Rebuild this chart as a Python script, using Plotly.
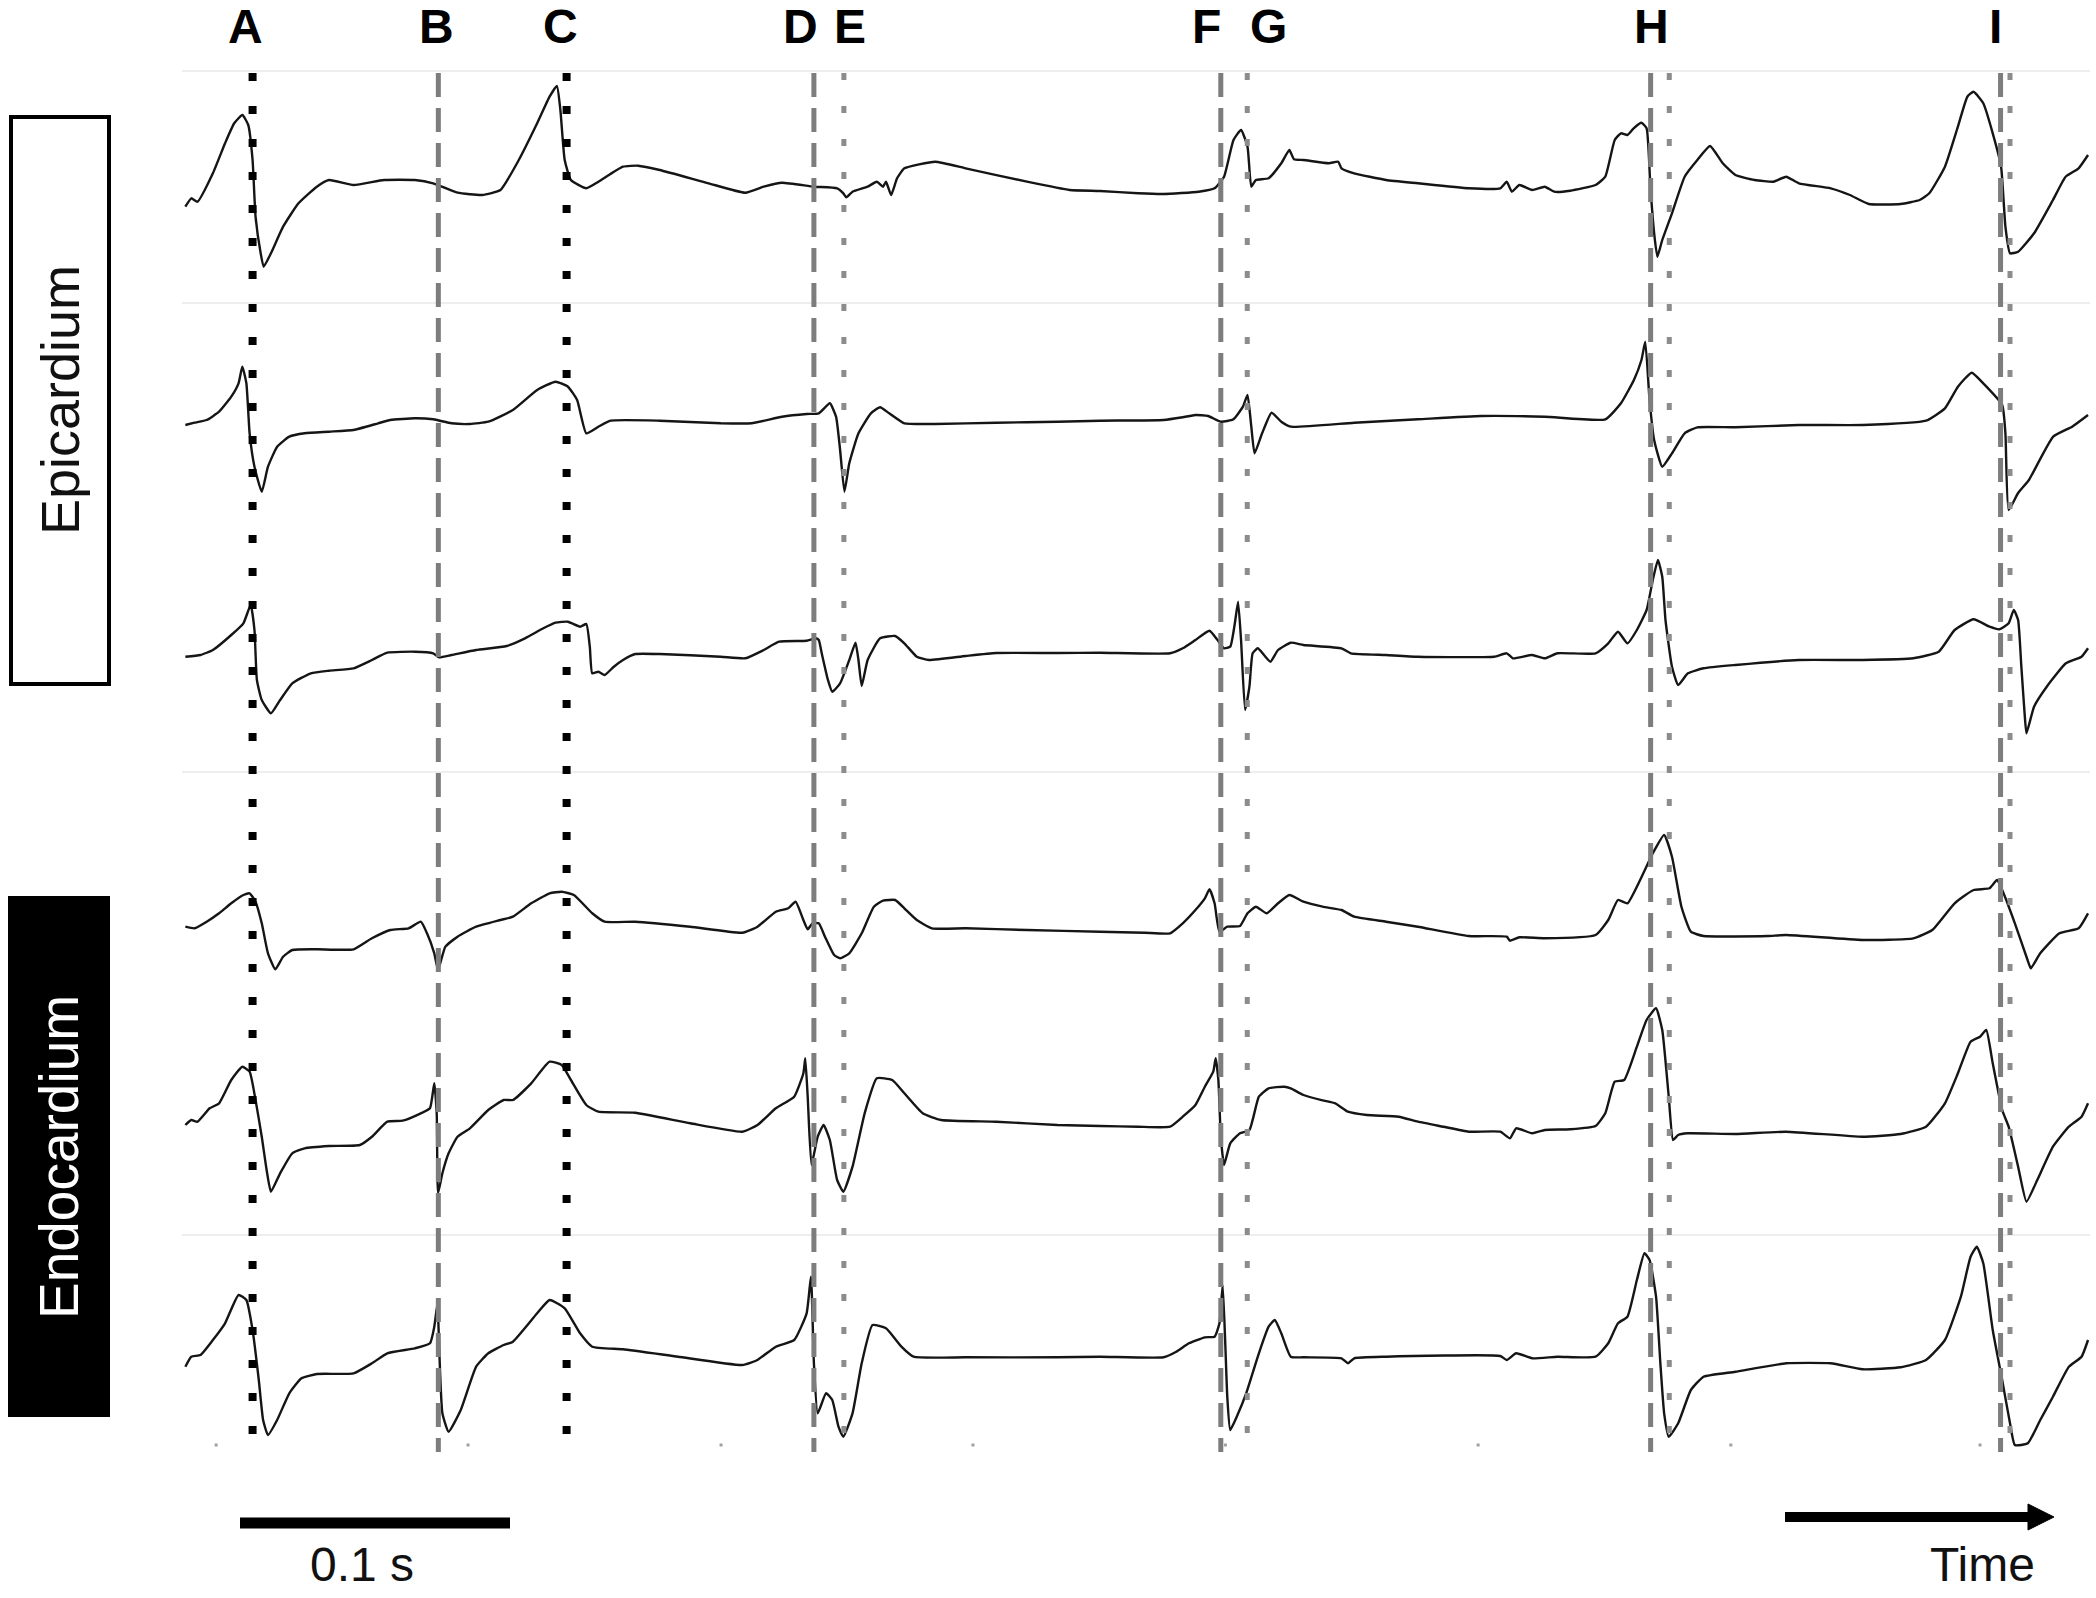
import plotly.graph_objects as go

# ------------------------------------------------------------------
# DATA  (time in ms from the left edge of the recordings, amplitude in a.u.)
# ------------------------------------------------------------------
channel_labels = ["Epi 1", "Epi 2", "Epi 3", "Endo 1", "Endo 2", "Endo 3"]

epi1_t = [0.5, 2.7, 5.0, 10.7, 15.2, 18.6, 21.6, 23.8, 25.4, 26.5,
          28.4, 29.5, 32.2, 36.7, 42.4, 49.2, 53.7, 62.8, 74.1, 85.5,
          92.3, 101.3, 110.4, 117.2, 124.0, 130.8, 135.4, 138.1, 139.4, 141.0,
          143.3, 149.0, 153.5, 162.6, 168.2, 176.2, 194.3, 207.9, 214.7, 221.5,
          233.3, 241.9, 244.2, 245.3, 247.6, 253.2, 256.6, 258.9, 260.0, 261.9,
          264.1, 266.8, 278.2, 289.5, 312.2, 328.0, 339.3, 353.4, 362.8, 375.8,
          381.7, 385.2, 388.7, 391.5, 393.9, 395.3, 397.0, 401.7, 406.4, 409.4,
          411.1, 414.6, 424.0, 427.5, 428.7, 433.4, 445.2, 457.0, 475.8, 487.5,
          489.9, 491.8, 494.6, 499.3, 504.0, 507.5, 513.4, 522.8, 526.4, 529.9,
          532.2, 534.6, 536.9, 539.8, 541.7, 543.1, 544.5, 545.7, 547.5, 551.1,
          555.8, 560.5, 565.2, 569.9, 574.6, 581.7, 588.7, 593.4, 598.1, 609.9,
          617.0, 624.0, 635.8, 642.8, 646.4, 652.2, 657.0, 660.5, 662.8, 666.4,
          669.9, 673.0, 674.6, 676.3, 679.3, 685.2, 692.2, 696.9, 701.7, 705.2]
epi1_v = [-16.7, -8.3, -11.7, 16.7, 46.7, 66.7, 75, 65, 30, -26.7,
          -63.3, -76.7, -63.3, -36.7, -13.3, 3.3, 10, 5, 10, 10,
          6.7, -2.7, -5, 0, 30, 66.7, 93.3, 104, 80, 30,
          10, 1.7, 8.3, 23.3, 24.3, 20, 6.7, -2.7, 3.3, 7.3,
          3.3, 1.7, -3.3, -7.3, -1.7, 3.3, 8.3, 3.3, 8.3, -5,
          11.7, 21.7, 28.3, 21.7, 8.3, 0, -1, -3.3, -4, -1.7,
          1.7, 13.3, 50, 60, 43.3, 3.3, 10, 11.7, 26.7, 40,
          30.7, 30, 26.7, 28.3, 21.7, 16.7, 10, 6.7, 1.7, 1.7,
          8.3, -1.7, 5, 0, 3.3, -1.7, -0.7, 5, 13.3, 50,
          56.7, 55, 61.7, 67.3, 61.7, 3.3, -43.3, -66.7, -50, -23.3,
          13.3, 30, 44, 26.7, 15, 10, 8.3, 13.3, 6.7, 1.7,
          -5, -14, -14, -10, -3.3, 23.3, 63.3, 93.3, 98.3, 86.7,
          56.7, 23.3, -36.7, -63.3, -61.7, -43.3, -10, 13.3, 21.7, 35]

epi2_t = [0.5, 3.9, 8.4, 13.0, 17.5, 20.2, 21.6, 23.1, 24.3, 26.1,
          28.8, 31.1, 34.5, 39.0, 44.7, 53.7, 62.8, 71.9, 76.4, 85.5,
          92.3, 99.1, 105.9, 112.7, 121.8, 130.8, 137.6, 142.2, 145.6, 149.0,
          153.5, 158.0, 176.2, 198.8, 210.2, 221.5, 230.6, 235.1, 239.2, 241.5,
          243.0, 244.6, 246.4, 249.8, 254.4, 257.8, 261.2, 266.8, 278.2, 300.8,
          323.5,
          339.3, 362.8, 369.9, 374.6, 379.3, 384.0, 388.7, 392.2, 393.9, 395.3,
          396.5, 399.3, 402.8, 406.4, 409.9, 433.4, 457.0, 480.5, 504.0, 526.4,
          532.2, 537.0, 539.8, 541.2, 542.8, 544.5, 547.5, 551.1, 555.8, 560.5,
          574.6, 598.1, 621.7, 645.2, 652.2, 657.0, 662.1, 666.4, 673.4, 674.6,
          675.8, 679.3, 683.3, 692.3, 699.3, 705.2]
epi2_v = [-2, 0.3, 3, 11.3, 26.3, 39.7, 56.3, 39.7, -10.3, -43.7,
          -68.7, -43.7, -23.7, -13.7, -10.3, -8.7, -7, -0.3, 3, 4.7,
          3.7, -0.3, -1, 1.3, 13, 33, 41.3, 36.3, 23, -10.3,
          -3.7, 2.3, 2.3, -0.3, -0.3, 6.3, 9, 9.7, 19.7, 6.3,
          -27, -68.7, -40.3, -10.3, 9.7, 15.7, 9.7, -0.3, -1, 0.3,
          1.3,
          2.3, 3, 5.7, 8, 7, 1.3, 3.7, 16.3, 28, -3.7,
          -30.3, -10.3, 10.3, 1.3, -3.7, 0.3, 3.7, 7, 6.3, 3.7,
          19.7, 43, 63, 81.3, 23, -17, -43.7, -30.3, -10.3, -4.3,
          -4.3, -2, -2, 2.3, 14.7, 36.3, 50.3, 39.7, 18, -10.3,
          -87, -70, -57, -13.7, -3.7, 8]

epi3_t = [0.5, 6.1, 10.7, 17.5, 22.0, 24.7, 26.1, 27.0, 28.8, 32.2,
          35.6, 40.1, 47.0, 53.7, 62.8, 69.6, 75.3, 85.5, 92.3, 94.5,
          99.1, 108.2, 119.5, 126.3, 133.1, 137.6, 142.2, 146.7, 149.0, 150.3,
          151.2, 153.5, 155.8, 159.2, 162.6, 167.1, 176.2, 198.8, 207.9, 214.7,
          220.4, 230.6, 234.0, 235.1, 236.2, 238.5, 240.1, 243.0, 246.4, 248.7,
          249.8, 251.0, 253.2, 257.8, 263.4, 266.8, 271.4, 275.9, 289.5, 300.8,
          323.5,
          339.3, 365.2, 369.9, 374.6, 379.8, 382.8, 385.2, 387.5, 389.2, 390.4,
          391.5, 393.0, 394.6, 395.8, 397.7, 400.0, 402.4, 405.2, 409.9, 414.6,
          428.7, 432.2, 445.2, 457.0, 485.2, 489.9, 492.2, 499.3, 504.0, 508.7,
          522.8, 527.5, 531.1, 534.6, 538.1, 541.7, 544.0, 545.9, 547.5, 548.7,
          551.1, 553.4, 557.0, 562.8, 574.6, 598.1, 621.7, 640.5, 649.9, 655.8,
          662.8, 668.7, 672.3, 675.8, 677.7, 679.3, 680.5, 681.7, 682.4, 685.2,
          689.9, 697.0, 702.8, 705.2]
epi3_v = [-3.7, -2, 3, 18, 29.7, 48, 23, -27, -47, -60.3,
          -47, -30.3, -20.3, -17.7, -15.3, -7, 0.3, 1.3, -0.3, -4.3,
          -2, 3, 7, 14.7, 24.7, 30.3, 31.3, 26.3, 29, 6.3,
          -20.3, -18.7, -22, -13.7, -7, -1, -1, -3.7, -5.3, 3,
          11.3, 12.3, 14.7, 13, -0.3, -27, -38.7, -30.3, -7, 10.3,
          -7, -33, -7, 14.7, 17, 9.7, -3.7, -7, -3, 0,
          0,
          0.3, -0.3, 4.7, 13, 22.3, 13, 4.7, 6.3, 29.7, 51.3,
          13, -57, -33.7, -0.3, 4.7, -2, -8.7, 3, 10.3, 8,
          4.7, -0.3, -2, -3.7, -3.7, -0.3, -5.3, -2, -5.3, -0.3,
          -0.3, 9.7, 21.3, 9.7, 23, 43, 73, 93, 76.3, 33,
          -13.7, -32, -20.3, -15.3, -12, -7, -7, -5.3, 1.3, 23,
          33.7, 26.3, 23.7, 29.7, 43, 33, -13.7, -60.3, -80.3, -53.7,
          -33.7, -10.3, -3.7, 4.7]

endo1_t = [0.5, 3.9, 8.4, 13.0, 17.5, 22.0, 24.3, 26.5, 28.8, 31.1,
           33.8, 36.7, 40.1, 49.2, 62.8, 69.6, 76.4, 83.2, 87.7, 90.0,
           92.7, 94.1, 96.8, 101.3, 108.2, 117.2, 121.8, 128.6, 135.4, 139.9,
           144.4, 151.2, 155.8, 167.1, 187.5, 206.8, 212.4, 219.2, 223.8, 226.5,
           229.4, 231.0, 232.8, 235.1, 237.4, 240.8, 243.0, 246.4, 251.0, 255.5,
           258.9, 263.4, 266.8, 271.4, 277.0, 289.5, 312.2,
           339.3, 355.8, 365.2, 369.9, 374.6, 378.1, 379.8, 381.7, 383.5, 386.4,
           391.1, 393.9, 397.0, 401.0, 405.2, 409.4, 414.6, 421.7, 428.7, 433.4,
           445.2, 457.0, 475.8, 489.9, 491.1, 494.6, 504.0, 522.8, 527.5, 531.1,
           534.6, 539.3, 544.0, 548.2, 551.1, 554.6, 558.1, 562.8, 586.4, 593.4,
           621.7, 640.5, 647.5, 655.8, 662.8, 668.7, 671.5, 673.4, 678.1, 682.8,
           684.0, 687.5, 694.6, 701.7, 705.2]
endo1_v = [1.3, -0.3, 6.3, 14.7, 24.7, 33, 34.7, 26.3, 4.7, -25.3,
           -41.3, -28.7, -22, -21.3, -21.3, -10.3, -2, -0.3, 6.3, -5.3,
           -25.3, -42, -18.7, -8.7, 1.3, 8, 11.3, 24.7, 34.7, 36.3,
           33, 14.7, 6.3, 6.3, 1.3, -4.7, 1.3, 16.3, 19.7, 26.3,
           8, -1.3, 4.7, 4.7, -8.7, -27, -30.3, -25.3, -5.3, 21.3,
           27.3, 28, 19.7, 8, -0.3, -0.3, -2,
           -3.7, -4.7, -5.3, 4.7, 18, 29.7, 38.7, 24.7, -3.7, 1.3,
           2, 14.7, 21.3, 14.7, 24.7, 33, 26.3, 21.3, 18, 11.3,
           6.3, 1.3, -8, -8.7, -12.7, -9.3, -10.3, -7, 8, 28,
           24.7, 48, 74.7, 93, 71.3, 21.3, -3.7, -8, -8, -7,
           -12, -10.3, -2, 24.7, 38, 39.7, 48, 38, 4.7, -32,
           -40.3, -25.3, -5.3, -0.3, 14.7]

endo2_t = [0.5, 2.7, 5.0, 9.5, 13.0, 17.5, 21.6, 24.3, 26.5, 28.8,
           30.6, 32.2, 35.6, 40.1, 44.7, 53.7, 65.1, 69.6, 75.3, 81.0,
           87.7, 91.1, 92.7, 93.6, 94.1, 95.7, 98.0, 101.3, 105.9, 112.7,
           118.4, 121.8, 128.6, 135.4, 139.9, 143.3, 149.0, 153.5, 167.1, 187.5,
           206.8, 212.4, 219.2, 226.0, 229.4, 230.1, 231.0, 232.4, 234.7, 236.9,
           239.2, 241.9, 244.2, 247.6, 252.1, 256.6, 262.3, 266.8, 273.6, 280.4,
           300.8, 323.5,
           339.3, 353.4, 365.2, 369.9, 374.6, 378.1, 381.2, 382.1, 383.1, 384.0,
           385.2, 387.5, 391.1, 394.6, 398.1, 401.7, 407.5, 409.9, 414.6, 421.7,
           426.4, 431.1, 438.1, 449.9, 457.0, 466.4, 475.8, 487.5, 491.1, 493.4,
           499.3, 504.0, 513.4, 522.8, 526.4, 529.9, 533.4, 538.1, 541.7, 545.2,
           547.5, 549.9, 551.5, 553.4, 556.9, 574.6, 593.4, 621.7, 635.8, 645.2,
           652.2, 657.0, 661.7, 665.2, 667.5, 669.9, 673.4, 675.8, 679.3, 682.4,
           686.4, 692.2, 698.1, 702.8, 705.2]
endo2_v = [-2, 3, 1.3, 14.7, 19.7, 43, 56.3, 51.3, 23, -13.7,
           -47, -68.7, -50.3, -30.3, -25.3, -23, -22, -13.7, 1.3, 2.3,
           9.7, 14.7, 39.7, 9.7, -70.3, -50.3, -30.3, -13.7, -5.3, 13,
           23, 23, 39.7, 61.3, 58, 43, 18, 11.3, 10.3, -0.3,
           -8.7, -2, 14.7, 26.3, 49.7, 64.7, 26.3, -42, -13.7, -2,
           -17, -57, -68.7, -43.7, 9.7, 44.7, 43, 29.7, 9.7, 3,
           1.3, -2,
           -3, -3.7, -3.7, 6.3, 18, 36.3, 51.3, 64.7, 43, -13.7,
           -42, -20.3, -10.3, -7, 26.3, 34.7, 36.3, 34.7, 28, 22.7,
           19.7, 11.3, 8, 6.3, 1.3, -3.7, -8.7, -8.7, -15.3, -5.3,
           -10.3, -7, -6.3, -3, 9.7, 41.3, 43, 76.3, 103, 114.7,
           93, 26.3, -17, -12, -10.3, -11, -8.7, -13.7, -11, -3.7,
           19.7, 49.7, 81.3, 86.3, 93, 59.7, 13, -3.7, -43.7, -78.7,
           -57, -23.7, -3.7, 6.3, 19.7]

endo3_t = [0.5, 2.7, 6.1, 10.7, 15.2, 20.2, 23.1, 25.4, 27.7, 29.3,
           31.1, 34.5, 39.0, 43.5, 49.2, 62.8, 69.6, 75.3, 85.5, 91.1,
           92.7, 93.9, 94.5, 95.7, 98.0, 102.5, 108.2, 112.7, 118.4, 121.8,
           130.8, 135.4, 141.0, 146.7, 151.2, 162.6, 183.0, 206.8, 212.4, 219.2,
           226.0, 230.6, 232.2, 233.3, 234.7, 237.8, 240.1, 242.4, 244.2, 247.6,
           251.0, 255.0, 260.0, 265.7, 270.2, 289.5, 323.5,
           339.3, 362.8, 367.5, 372.2, 378.1, 381.7, 383.5, 384.7, 385.7, 386.4,
           387.5, 389.9, 393.4, 398.1, 401.7, 404.0, 406.4, 409.9, 414.6, 428.7,
           431.1, 433.4, 445.2, 487.5, 489.9, 493.4, 499.3, 508.7, 522.8, 527.5,
           531.1, 534.6, 538.1, 540.9, 542.8, 545.2, 546.8, 548.2, 549.9, 553.4,
           558.1, 562.8, 574.6, 593.4, 609.9, 621.7, 635.8, 645.2, 652.2, 658.1,
           661.7, 664.0, 666.4, 669.9, 673.4, 676.3, 678.1, 682.9, 687.5, 692.2,
           698.1, 702.8, 705.2]
endo3_v = [-9.7, 0.3, 2, 17, 33.7, 62, 57, 27, -23, -63,
           -78, -63, -36.3, -21.3, -17, -16.3, -6.3, 3.7, 8.7, 13.7,
           30.3, 53.7, 10.3, -56.3, -74.7, -53, -9.7, 3.7, 12, 15.3,
           43.7, 57, 48.7, 23.7, 10.3, 7.7, 0.3, -8, -3, 10.3,
           17, 43.7, 80.3, -6.3, -56.3, -36.3, -43, -69.7, -79.7, -56.3,
           -6.3, 32, 28.7, 10.3, 0.3, -0.3, -0.3,
           0.3, -0.3, 5.3, 13.7, 19.7, 20.3, 33.7, 72, 10.3, -39.7,
           -73, -59.7, -36.3, 3.7, 30.3, 37, 23.7, 0.3, -0.3, -1.3,
           -6.3, -1.3, 0.3, 1, -3, 3.7, -1.3, 0.3, 0.3, 13.7,
           33.7, 40.3, 77, 103.7, 97, 60.3, -6.3, -56.3, -79.7, -66.3,
           -33, -19.7, -14.7, -6.3, -6.3, -12.3, -10.3, -3, 17, 60.3,
           100.3, 110.3, 93.7, 27, -23, -66.3, -88, -86.3, -63, -39.7,
           -9.7, 0.3, 17]

# event markers (ms)
event_labels = ["A", "B", "C", "D", "E", "F", "G", "H", "I"]
event_label_t = [22.6, 93.6, 139.6, 228.3, 246.5, 378.7, 401.5, 543.7, 671.0]
black_dotted_t = [25.4, 141.7]
gray_dashed_t = [94.2, 233.3, 384.0, 543.2, 672.8]
gray_dotted_t = [244.4, 393.8, 550.1, 676.3]
time_tick_t = [11.9, 105.2, 198.9, 292.2, 385.7, 479.3, 572.9, 665.2]

scale_bar_ms = 100
scale_bar_label = "0.1 s"
time_label = "Time"
group_labels = ["Epicardium", "Endocardium"]

# ------------------------------------------------------------------
# LAYOUT CONSTANTS (pixel geometry of the page)
# ------------------------------------------------------------------
W, H = 2096, 1598
T0_PX = 184.0          # pixel x of t = 0
PX_PER_MS = 2.7        # 0.1 s = 270 px
baseline_px = [190, 423, 653, 928, 1123, 1357]
FONT = "Liberation Sans, Arial, Helvetica, sans-serif"


def tx(px):
    return (px - T0_PX) / PX_PER_MS


def ty(py):
    return -py


def pxp(px):
    return px / W


def pyp(py):
    return 1 - py / H


channels = [(epi1_t, epi1_v), (epi2_t, epi2_v), (epi3_t, epi3_v),
            (endo1_t, endo1_v), (endo2_t, endo2_v), (endo3_t, endo3_v)]

fig = go.Figure()

# faint panel separators
for gy in [71, 303, 772, 1235]:
    fig.add_trace(go.Scatter(x=[tx(182), tx(2090)], y=[ty(gy), ty(gy)], mode="lines",
                             line=dict(color="#eeeeee", width=2), hoverinfo="skip",
                             showlegend=False))

# electrogram traces
for (t, v), base, name in zip(channels, baseline_px, channel_labels):
    fig.add_trace(go.Scatter(x=t, y=[vi - base for vi in v], mode="lines", name=name,
                             line=dict(color="#151515", width=2.4, shape="spline",
                                       smoothing=0.45),
                             hoverinfo="skip", showlegend=False))

LINE_TOP, LINE_BOT = 73, 1452
for t in gray_dashed_t:
    fig.add_trace(go.Scatter(x=[t, t], y=[ty(LINE_TOP), ty(LINE_BOT)], mode="lines",
                             line=dict(color="#7d7d7d", width=5, dash="24px,11px"),
                             hoverinfo="skip", showlegend=False))
for t in gray_dotted_t:
    fig.add_trace(go.Scatter(x=[t, t], y=[ty(LINE_TOP), ty(LINE_BOT)], mode="lines",
                             line=dict(color="#8c8c8c", width=5, dash="7px,26px"),
                             hoverinfo="skip", showlegend=False))
for t in black_dotted_t:
    fig.add_trace(go.Scatter(x=[t, t], y=[ty(LINE_TOP), ty(LINE_BOT)], mode="lines",
                             line=dict(color="#000000", width=8, dash="8px,25px"),
                             hoverinfo="skip", showlegend=False))

# small time ticks at the bottom
fig.add_trace(go.Scatter(x=time_tick_t, y=[ty(1445)] * len(time_tick_t), mode="markers",
                         marker=dict(color="#a0a0a0", size=3, symbol="square"),
                         hoverinfo="skip", showlegend=False))

# scale bar
sb0 = tx(240)
fig.add_trace(go.Scatter(x=[sb0, sb0 + scale_bar_ms], y=[ty(1523), ty(1523)], mode="lines",
                         line=dict(color="#000000", width=11), hoverinfo="skip",
                         showlegend=False))

# event letters
for lab, t in zip(event_labels, event_label_t):
    fig.add_annotation(x=t, y=ty(26), text="<b>%s</b>" % lab, showarrow=False,
                       font=dict(family=FONT, size=48, color="#000000"),
                       xanchor="center", yanchor="middle")

fig.add_annotation(x=tx(362), y=ty(1564), text=scale_bar_label, showarrow=False,
                   font=dict(family=FONT, size=48, color="#111111"),
                   xanchor="center", yanchor="middle")
fig.add_annotation(x=tx(1982), y=ty(1564), text=time_label, showarrow=False,
                   font=dict(family=FONT, size=48, color="#111111"),
                   xanchor="center", yanchor="middle")

# group boxes
shapes = [
    dict(type="rect", xref="paper", yref="paper", x0=pxp(11), x1=pxp(109),
         y0=pyp(684), y1=pyp(117), line=dict(color="#000000", width=4),
         fillcolor="#ffffff", layer="below"),
    dict(type="rect", xref="paper", yref="paper", x0=pxp(8), x1=pxp(110),
         y0=pyp(1417), y1=pyp(896), line=dict(color="#000000", width=0),
         fillcolor="#000000", layer="below"),
    # time arrow
    dict(type="line", xref="paper", yref="paper", x0=pxp(1785), x1=pxp(2034),
         y0=pyp(1517), y1=pyp(1517), line=dict(color="#000000", width=10)),
    dict(type="path", xref="paper", yref="paper",
         path="M %f %f L %f %f L %f %f Z" % (pxp(2028), pyp(1504), pxp(2054), pyp(1517),
                                             pxp(2028), pyp(1530)),
         fillcolor="#000000", line=dict(color="#000000", width=1)),
]
fig.add_annotation(x=pxp(60), y=pyp(400), xref="paper", yref="paper", text=group_labels[0],
                   showarrow=False, textangle=-90,
                   font=dict(family=FONT, size=54, color="#111111"),
                   xanchor="center", yanchor="middle")
fig.add_annotation(x=pxp(59), y=pyp(1157), xref="paper", yref="paper", text=group_labels[1],
                   showarrow=False, textangle=-90,
                   font=dict(family=FONT, size=55, color="#ffffff"),
                   xanchor="center", yanchor="middle")

fig.update_layout(
    width=W, height=H,
    margin=dict(l=0, r=0, t=0, b=0),
    paper_bgcolor="#ffffff", plot_bgcolor="#ffffff",
    shapes=shapes,
    xaxis=dict(range=[tx(0), tx(W)], visible=False, fixedrange=True),
    yaxis=dict(range=[ty(H), ty(0)], visible=False, fixedrange=True),
    showlegend=False,
)

fig.write_html("out.html", config={"displayModeBar": False},
               post_script="document.body.style.margin='0';document.body.style.padding='0';")
